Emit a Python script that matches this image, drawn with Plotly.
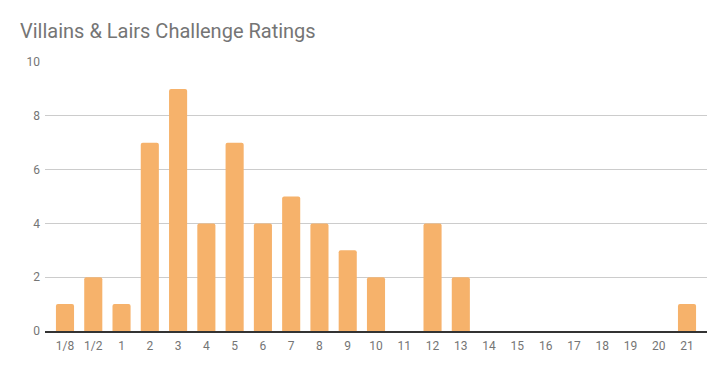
import plotly.graph_objects as go

categories = ["1/8", "1/2", "1", "2", "3", "4", "5", "6", "7", "8", "9", "10",
              "11", "12", "13", "14", "15", "16", "17", "18", "19", "20", "21"]
counts = [1, 2, 1, 7, 9, 4, 7, 4, 5, 4, 3, 2, 0, 4, 2, 0, 0, 0, 0, 0, 0, 0, 1]
y_ticks = [0, 2, 4, 6, 8, 10]

# page body has an 8px margin, so the figure is drawn 8px in and shrunk by 8px
W, H = 717, 363

fig = go.Figure(go.Bar(
    x=categories, y=counts,
    marker=dict(color="#f6b26b", cornerradius=2, line=dict(width=0)),
    width=0.64,
))

n = len(categories)
fig.update_layout(
    width=W, height=H,
    margin=dict(l=37, r=18, t=54, b=40),
    paper_bgcolor="white", plot_bgcolor="white",
    font=dict(family="Roboto", color="#757575", size=12),
    title=dict(text="Villains & Lairs Challenge Ratings", x=12 / W, xanchor="left",
               y=1 - 23 / H, yanchor="middle",
               font=dict(family="Roboto", size=20, color="#757575")),
    showlegend=False,
)
fig.update_xaxes(type="category", range=[-0.707, n - 1 + 0.707],
                 showgrid=False, showline=True, linecolor="#333333", linewidth=1.5,
                 ticks="", ticklabelstandoff=3, tickfont=dict(size=12, color="#757575"))
fig.update_yaxes(range=[0, 10], tickvals=y_ticks, showgrid=True, gridcolor="#cccccc",
                 gridwidth=1, zeroline=False, showline=False, ticks="",
                 ticklabelstandoff=4, tickfont=dict(size=12, color="#757575"))

fig.write_html("out.html")
